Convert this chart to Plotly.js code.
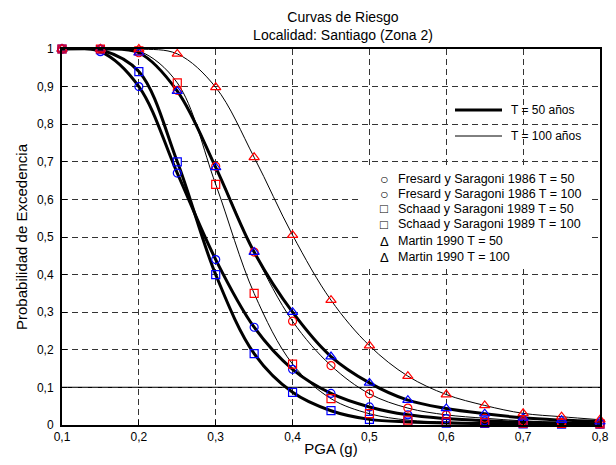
<!DOCTYPE html>
<html>
<head>
<meta charset="utf-8">
<script src="https://cdn.plot.ly/plotly-3.0.1.min.js"></script>
<style>html,body{margin:0;padding:0;background:#fff}#chart{width:616px;height:465px}</style>
</head>
<body>
<div id="chart"></div>
<script>
// ---- data ----
const pga = [0.1, 0.15, 0.2, 0.25, 0.3, 0.35, 0.4, 0.45, 0.5, 0.55, 0.6, 0.65, 0.7, 0.75, 0.8];
const fresard50  = [1, 0.993, 0.90, 0.67, 0.44, 0.26, 0.148, 0.084, 0.048, 0.027, 0.017, 0.011, 0.007, 0.005, 0.003];
const fresard100 = [1, 1, 0.99, 0.89, 0.688, 0.46, 0.276, 0.158, 0.083, 0.045, 0.027, 0.018, 0.011, 0.007, 0.004];
const schaad50   = [1, 0.998, 0.94, 0.70, 0.40, 0.19, 0.087, 0.038, 0.015, 0.008, 0.005, 0.004, 0.003, 0.002, 0.002];
const schaad100  = [1, 1, 0.995, 0.91, 0.64, 0.35, 0.162, 0.07, 0.03, 0.013, 0.008, 0.006, 0.005, 0.004, 0.003];
const martin50   = [1, 1, 0.99, 0.888, 0.685, 0.46, 0.30, 0.182, 0.112, 0.066, 0.044, 0.03, 0.019, 0.013, 0.009];
const martin100  = [1, 1, 1, 0.987, 0.898, 0.712, 0.505, 0.332, 0.211, 0.13, 0.081, 0.052, 0.031, 0.022, 0.014];

const seriesNames = [
  "Fresard y Saragoni 1986 T = 50",
  "Fresard y Saragoni 1986 T = 100",
  "Schaad y Saragoni 1989 T = 50",
  "Schaad y Saragoni 1989 T = 100",
  "Martin 1990 T = 50",
  "Martin 1990 T = 100"
];
const legendGlyphs = ["○", "○", "□", "□", "Δ", "Δ"];
const lineLegendLabels = ["T = 50 años", "T = 100 años"];
const xTickVals = [0.1, 0.2, 0.3, 0.4, 0.5, 0.6, 0.7, 0.8];
const xTickText = ["0,1", "0,2", "0,3", "0,4", "0,5", "0,6", "0,7", "0,8"];
const yTickVals = [0, 0.1, 0.2, 0.3, 0.4, 0.5, 0.6, 0.7, 0.8, 0.9, 1];
const yTickText = ["0", "0,1", "0,2", "0,3", "0,4", "0,5", "0,6", "0,7", "0,8", "0,9", "1"];
const refLevel = 0.1;

// ---- styling ----
const FONT = "Liberation Sans, Arial, sans-serif";
const series = [fresard50, fresard100, schaad50, schaad100, martin50, martin100];
const isT50 = [true, false, true, false, true, false];
const colors = ["#0000ff", "#ff0000", "#0000ff", "#ff0000", "#0000ff", "#ff0000"];
const symbols = ["circle-open", "circle-open", "square-open", "square-open", "triangle-up-open", "triangle-up-open"];
const sizes = [8, 8, 8, 8, 9, 9];
const glyphSizes = [14, 14, 13, 13, 13, 13];

const traces = [];
[1, 3, 5, 0, 2, 4].forEach(i => {
  traces.push({
    x: pga, y: series[i], type: "scatter", mode: "lines",
    line: {color: "#000", width: isT50[i] ? 3 : 1, shape: "spline", smoothing: 1},
    showlegend: false, hoverinfo: "skip"
  });
});
series.forEach((s, i) => {
  traces.push({
    x: pga, y: s, type: "scatter", mode: "markers", name: seriesNames[i],
    marker: {symbol: symbols[i], color: colors[i], size: sizes[i], line: {width: 1.2, color: colors[i]}},
    cliponaxis: false, showlegend: false
  });
});

const L = 62, R = 600, T = 49, B = 425;
const px = v => (v - L) / (R - L);
const py = v => (B - v) / (B - T);

const shapes = [
  {type: "line", xref: "paper", yref: "y", x0: 0, x1: 1, y0: refLevel, y1: refLevel,
   line: {color: "#000", width: 1.3}, layer: "between"},
  {type: "rect", xref: "paper", yref: "paper", x0: px(362), x1: px(591), y0: py(266), y1: py(166),
   fillcolor: "#fff", line: {width: 0}, layer: "above"},
  {type: "line", xref: "paper", yref: "paper", x0: px(455), x1: px(502), y0: py(110), y1: py(110),
   line: {color: "#000", width: 3}},
  {type: "line", xref: "paper", yref: "paper", x0: px(455), x1: px(502), y0: py(136), y1: py(136),
   line: {color: "#000", width: 1}}
];

const annotations = [];
lineLegendLabels.forEach((t, i) => {
  annotations.push({xref: "paper", yref: "paper", x: px(510), y: py(i === 0 ? 110 : 136),
    xanchor: "left", yanchor: "middle", showarrow: false, text: t, borderpad: 0,
    font: {family: FONT, size: 12, color: "#000"}});
});
const rowY = [179, 194, 209, 224, 241, 257];
seriesNames.forEach((t, i) => {
  annotations.push({xref: "paper", yref: "paper", x: px(384), y: py(rowY[i]),
    xanchor: "center", yanchor: "middle", showarrow: false, text: legendGlyphs[i], borderpad: 0,
    font: {family: FONT, size: glyphSizes[i], color: "#000"}});
  annotations.push({xref: "paper", yref: "paper", x: px(397), y: py(rowY[i]),
    xanchor: "left", yanchor: "middle", showarrow: false, text: t, borderpad: 0,
    font: {family: FONT, size: 12.5, color: "#000"}});
});

const axisCommon = {
  showline: true, linecolor: "#000", linewidth: 2, mirror: true,
  showgrid: true, gridcolor: "#333", gridwidth: 1, griddash: "6px,4px",
  zeroline: false, ticks: "inside", ticklen: 5, tickcolor: "#000",
  tickfont: {family: FONT, size: 12, color: "#000"}, fixedrange: true
};

const layout = {
  width: 616, height: 465,
  margin: {l: L, r: 616 - R, t: T, b: 465 - B, pad: 0},
  paper_bgcolor: "#fff", plot_bgcolor: "#fff",
  font: {family: FONT, color: "#000"},
  title: {text: "Curvas de Riesgo<br>Localidad: Santiago (Zona 2)",
    font: {family: FONT, size: 14, color: "#000"},
    xref: "paper", x: px(343), xanchor: "center", yref: "container", y: 1 - 22 / 465, yanchor: "middle"},
  xaxis: Object.assign({}, axisCommon, {
    range: [0.1, 0.8], tickvals: xTickVals, ticktext: xTickText, ticklabelstandoff: 0,
    title: {text: "PGA (g)", font: {family: FONT, size: 15, color: "#000"}, standoff: 0}
  }),
  yaxis: Object.assign({}, axisCommon, {
    range: [0, 1], tickvals: yTickVals, ticktext: yTickText, ticklabelstandoff: 4,
    title: {text: "Probabilidad de Excedencia", font: {family: FONT, size: 15, color: "#000"}, standoff: 6}
  }),
  shapes: shapes,
  annotations: annotations,
  showlegend: false
};

Plotly.newPlot("chart", traces, layout, {displayModeBar: false, staticPlot: true});
</script>
</body>
</html>
